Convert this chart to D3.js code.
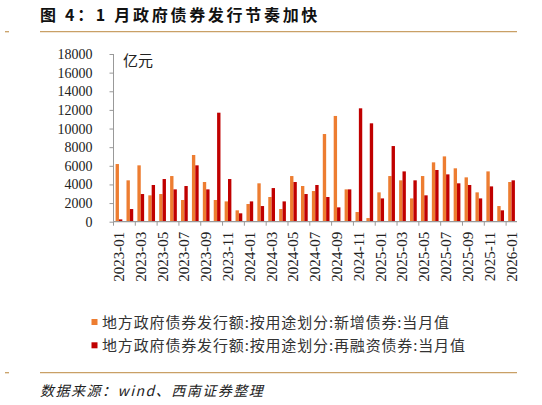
<!DOCTYPE html>
<html><head><meta charset="utf-8">
<script src="https://cdn.jsdelivr.net/npm/d3@7/dist/d3.min.js"></script>
<style>
body{margin:0;background:#fff;}
svg{display:block;}
</style></head>
<body>
<svg id="chart" width="542" height="405"></svg>
<script>
const months = ["2023-01","2023-02","2023-03","2023-04","2023-05","2023-06","2023-07","2023-08","2023-09","2023-10","2023-11","2023-12",
"2024-01","2024-02","2024-03","2024-04","2024-05","2024-06","2024-07","2024-08","2024-09","2024-10","2024-11","2024-12",
"2025-01","2025-02","2025-03","2025-04","2025-05","2025-06","2025-07","2025-08","2025-09","2025-10","2025-11","2025-12","2026-01"];
const newBonds = [6190,4440,6050,2830,2970,4900,2330,7160,4260,2330,2180,1220,
1900,4120,2650,1360,4900,3830,3290,9410,11350,3470,1040,390,
3150,4900,4440,2500,4900,6370,7010,5730,4760,3150,5400,1680,4260];
const refiBonds = [250,1360,2970,3940,4580,3470,3830,6050,3470,11700,4580,900,
2180,1680,3610,2180,4260,2970,3940,2650,1540,3470,12170,10560,
2500,8120,5400,4440,2830,5550,5080,4120,3940,2500,3790,1220,4440];
const yTicks = [0,2000,4000,6000,8000,10000,12000,14000,16000,18000];
const seriesNames = ["地方政府债券发行额:按用途划分:新增债券:当月值","地方政府债券发行额:按用途划分:再融资债券:当月值"];
const seriesColors = ["#ED7D31","#C00000"];
const titleText = "图 4：1 月政府债券发行节奏加快";
const unitText = "亿元";
const sourceText = "数据来源：wind、西南证券整理";

const svg = d3.select("#chart");
const L = 113.5, R = 517, T = 54, B = 221.7;
const lineColor = "#C9A066";

// title
svg.append("text").attr("x",40).attr("y",21)
  .attr("font-family","'Noto Sans CJK SC'").attr("font-weight","bold")
  .attr("font-size",16).attr("letter-spacing",2.7).attr("fill","#111").text(titleText);
// rules
[31.7, 372.7].forEach(yy=>{
  svg.append("line").attr("x1",40).attr("x2",517).attr("y1",yy).attr("y2",yy).attr("stroke",lineColor).attr("stroke-width",1.3);
  svg.append("line").attr("x1",5).attr("x2",9).attr("y1",yy).attr("y2",yy).attr("stroke",lineColor).attr("stroke-width",1.3);
});

const x0 = d3.scaleBand().domain(months).range([L,R]).paddingInner(0).paddingOuter(0);
const x1 = d3.scaleBand().domain([0,1]).range([0,x0.bandwidth()]).paddingInner(0).paddingOuter(0.62);
const y = d3.scaleLinear().domain([0,18000]).range([B,T]);

// bars
const g = svg.append("g");
months.forEach((m,i)=>{
  [newBonds[i], refiBonds[i]].forEach((v,k)=>{
    g.append("rect").attr("x",x0(m)+x1(k)).attr("width",x1.bandwidth())
      .attr("y",y(v)).attr("height",B-y(v)).attr("fill",seriesColors[k]);
  });
});

// y axis
const yAxis = svg.append("g").attr("transform",`translate(${L},0)`)
  .call(d3.axisLeft(y).tickValues(yTicks).tickSize(4).tickPadding(17).tickFormat(d3.format("d")));
yAxis.select(".domain").attr("stroke","#999").attr("d",`M0,${T}V${B}`);
yAxis.selectAll(".tick line").attr("stroke","#999");
yAxis.selectAll("text").attr("font-family","'Liberation Serif'").attr("font-size",14).attr("fill","#222");

// x axis
const oddMonths = months.filter((m,i)=>i%2===0);
const xAxisG = svg.append("g").attr("transform",`translate(0,${B})`);
xAxisG.append("line").attr("x1",L).attr("x2",R).attr("y1",0).attr("y2",0).attr("stroke","#999").attr("stroke-width",1.3);
xAxisG.selectAll("line.tk").data(oddMonths).join("line").attr("class","tk")
  .attr("x1",d=>x0(d)).attr("x2",d=>x0(d)).attr("y1",0).attr("y2",4).attr("stroke","#999");
xAxisG.selectAll("text").data(oddMonths).join("text")
  .attr("transform",d=>`translate(${x0(d)+x0.bandwidth()/2+5},10) rotate(-90)`)
  .attr("text-anchor","end").attr("font-family","'Liberation Serif'").attr("font-size",15)
  .attr("fill","#222").text(d=>d);

// unit
svg.append("text").attr("x",123).attr("y",66).attr("font-family","'Noto Sans CJK SC'")
  .attr("font-size",15).attr("fill","#222").text(unitText);

// legend
seriesNames.forEach((n,k)=>{
  const yy = 322 + k*23.3;
  svg.append("rect").attr("x",91.5).attr("y",yy-3).attr("width",6).attr("height",6).attr("fill",seriesColors[k]);
  svg.append("text").attr("x",102).attr("y",yy+6).attr("font-family","'Noto Sans CJK SC'")
    .attr("font-size",15).attr("letter-spacing",0.85).attr("fill","#333").text(n);
});

// source
svg.append("text").attr("x",40).attr("y",396).attr("font-family","'Noto Sans CJK SC'")
  .attr("font-style","italic").attr("font-size",14).attr("letter-spacing",1.5).attr("fill","#222").text(sourceText);
</script>
</body></html>
